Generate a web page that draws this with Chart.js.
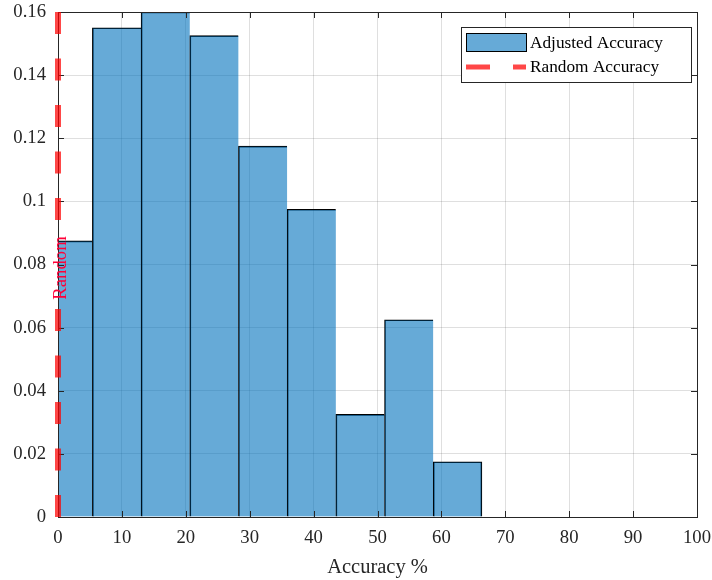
<!DOCTYPE html>
<html><head><meta charset="utf-8">
<script src="https://cdn.jsdelivr.net/npm/chart.js@4.4.1/dist/chart.umd.min.js"></script>
<style>html,body{margin:0;padding:0;background:#fff}#wrap{width:712px;height:580px}</style>
</head><body><div id="wrap"><canvas id="c" width="712" height="580"></canvas></div>
<script>
// ---- data ----
const binEdges = [-2.24, 5.38, 13.00, 20.62, 28.24, 35.86, 43.48, 51.10, 58.72, 66.34];
const adjustedAccuracy = [0.0875, 0.155, 0.16, 0.1525, 0.1175, 0.0975, 0.0325, 0.0625, 0.0175];
const randomAccuracyX = 0;
const randomLabel = 'Random';
const randomLabelSpan = [0.0688, 0.0890];
const xTickValues = [0, 10, 20, 30, 40, 50, 60, 70, 80, 90, 100];
const xTickLabels = ['0', '10', '20', '30', '40', '50', '60', '70', '80', '90', '100'];
const yTickValues = [0, 0.02, 0.04, 0.06, 0.08, 0.10, 0.12, 0.14, 0.16];
const yTickLabels = ['0', '0.02', '0.04', '0.06', '0.08', '0.1', '0.12', '0.14', '0.16'];
const seriesNames = ['Adjusted Accuracy', 'Random Accuracy'];

const FONT = "'Liberation Serif', 'Times New Roman', serif";
const AX = '#262626';
const BAR_FILL = 'rgba(0,114,189,0.6)';
const RED = 'rgba(255,0,0,0.72)';

const centers = adjustedAccuracy.map((v, i) => (binEdges[i] + binEdges[i + 1]) / 2);
const yMin = yTickValues[0], yMax = yTickValues[yTickValues.length - 1];

function drawFrame(chart) {
  const { ctx, chartArea: a, scales: { x, y } } = chart;
  ctx.save();
  ctx.strokeStyle = AX; ctx.lineWidth = 1;
  const tl = 6;
  ctx.beginPath();
  xTickValues.forEach(v => {
    const px = Math.round(x.getPixelForValue(v)) + 0.5;
    ctx.moveTo(px, a.bottom); ctx.lineTo(px, a.bottom - tl);
    ctx.moveTo(px, a.top); ctx.lineTo(px, a.top + tl);
  });
  yTickValues.forEach(v => {
    const py = Math.round(y.getPixelForValue(v)) + 0.5;
    ctx.moveTo(a.left, py); ctx.lineTo(a.left + tl, py);
    ctx.moveTo(a.right, py); ctx.lineTo(a.right - tl, py);
  });
  ctx.stroke();
  ctx.strokeRect(Math.round(a.left) + 0.5, Math.round(a.top) + 0.5,
    Math.round(a.right) - Math.round(a.left), Math.round(a.bottom) - Math.round(a.top));
  ctx.restore();
}

const framePlugin = {
  id: 'frame',
  afterDatasetDraw(chart, args) {
    if (args.index === 0) drawFrame(chart);
  },
  afterDraw(chart) {
    const { ctx, scales: { x, y } } = chart;
    ctx.save();
    const lx = x.getPixelForValue(randomAccuracyX);
    const ly = (y.getPixelForValue(randomLabelSpan[0]) + y.getPixelForValue(randomLabelSpan[1])) / 2;
    ctx.translate(lx + 3, ly);
    ctx.rotate(-Math.PI / 2);
    ctx.fillStyle = 'rgb(255,0,56)';
    ctx.font = `18.7px ${FONT}`;
    ctx.textAlign = 'center'; ctx.textBaseline = 'middle';
    ctx.fillText(randomLabel, 0, 0);
    ctx.restore();

    const ds = chart.data.datasets;
    ctx.save();
    const bx = 461.5, by = 27.5, bw = 230, bh = 55;
    ctx.fillStyle = '#fff';
    ctx.fillRect(bx, by, bw, bh);
    ctx.strokeStyle = AX; ctx.lineWidth = 1;
    ctx.strokeRect(bx, by, bw, bh);
    ctx.fillStyle = ds[0].backgroundColor;
    ctx.fillRect(466.5, 33.5, 60, 18);
    ctx.strokeStyle = '#000';
    ctx.strokeRect(466.5, 33.5, 60, 18);
    ctx.strokeStyle = ds[1].borderColor; ctx.lineWidth = 5;
    ctx.setLineDash([24, 23]);
    ctx.beginPath(); ctx.moveTo(466, 67); ctx.lineTo(526, 67); ctx.stroke();
    ctx.setLineDash([]);
    ctx.fillStyle = '#000';
    ctx.font = `17.3px ${FONT}`;
    ctx.textAlign = 'left'; ctx.textBaseline = 'middle';
    ctx.fillText(ds[0].label, 530, 43);
    ctx.fillText(ds[1].label, 530, 67);
    ctx.restore();
  }
};

new Chart(document.getElementById('c'), {
  type: 'bar',
  data: {
    datasets: [
      {
        type: 'bar',
        label: seriesNames[0],
        data: centers.map((c, i) => ({ x: c, y: adjustedAccuracy[i] })),
        backgroundColor: BAR_FILL,
        borderColor: '#000',
        borderWidth: (c) => ({ top: 1, left: 1, right: c.dataIndex === adjustedAccuracy.length - 1 ? 1 : 0, bottom: 0 }),
        barPercentage: 1,
        categoryPercentage: 1,
        clip: 0,
        order: 2
      },
      {
        type: 'line',
        label: seriesNames[1],
        data: [{ x: randomAccuracyX, y: yMin }, { x: randomAccuracyX, y: randomLabelSpan[0] }],
        borderColor: RED, borderWidth: 6, borderDash: [22, 24.5], borderCapStyle: 'butt',
        pointRadius: 0, fill: false, clip: false, order: 1
      },
      {
        type: 'line',
        label: seriesNames[1],
        data: [{ x: randomAccuracyX, y: yMax }, { x: randomAccuracyX, y: randomLabelSpan[1] }],
        borderColor: RED, borderWidth: 6, borderDash: [22, 24.5], borderCapStyle: 'butt',
        pointRadius: 0, fill: false, clip: false, order: 1
      }
    ]
  },
  options: {
    responsive: false, animation: false, devicePixelRatio: 1,
    layout: { padding: { top: 12, right: 15, left: 0, bottom: 0 } },
    plugins: { legend: { display: false }, tooltip: { enabled: false } },
    scales: {
      x: {
        type: 'linear', min: 0, max: 100, offset: false,
        afterBuildTicks(s) { s.ticks = xTickValues.map(v => ({ value: v })); },
        ticks: {
          autoSkip: false, maxRotation: 0, padding: 10, color: AX,
          font: { family: FONT, size: 18.7 },
          callback: (v) => xTickLabels[xTickValues.indexOf(v)]
        },
        grid: { offset: false, color: 'rgba(38,38,38,0.15)', drawTicks: false, lineWidth: 1 },
        border: { display: true, color: AX, width: 1 },
        title: { display: true, text: 'Accuracy %', color: AX, font: { family: FONT, size: 20.5 }, padding: { top: 0, bottom: 0 } },
        afterFit(s) { s.height = 63; s.paddingLeft = 0; s.paddingRight = 0; }
      },
      y: {
        type: 'linear', min: yMin, max: yMax,
        afterBuildTicks(s) { s.ticks = yTickValues.map(v => ({ value: v })); },
        ticks: {
          padding: 12, color: AX,
          font: { family: FONT, size: 18.7 },
          callback: (v) => yTickLabels[yTickValues.findIndex(t => Math.abs(t - v) < 1e-9)]
        },
        grid: { color: 'rgba(38,38,38,0.15)', drawTicks: false, lineWidth: 1 },
        border: { display: true, color: AX, width: 1 },
        afterFit(s) { s.width = 58; s.paddingTop = 0; s.paddingBottom = 0; }
      }
    }
  },
  plugins: [framePlugin]
});
</script>
</body></html>
